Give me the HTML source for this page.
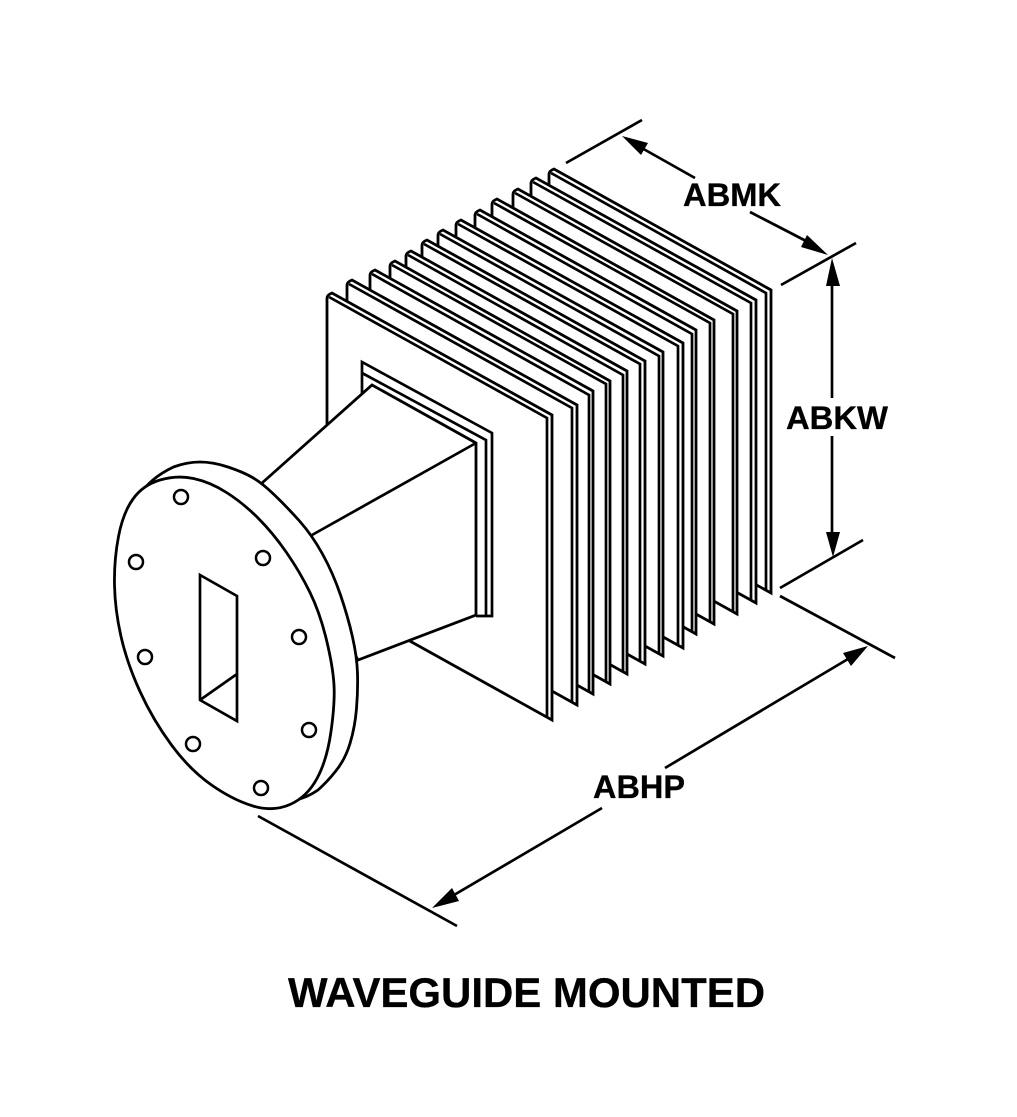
<!DOCTYPE html>
<html>
<head>
<meta charset="utf-8">
<title>Waveguide Mounted</title>
<style>
html,body{margin:0;padding:0;background:#fff;}
svg{display:block;}
text{font-family:"Liberation Sans",Arial,sans-serif;font-weight:bold;fill:#000;stroke:#000;stroke-width:0.3;}
.f{fill:#fff;stroke:#000;stroke-width:2.8;stroke-linejoin:miter;}
.i{fill:none;stroke:#000;stroke-width:2.7;}
.l{fill:none;stroke:#000;stroke-width:2.7;}
.h{fill:#fff;stroke:#000;stroke-width:2.5;}
</style>
</head>
<body>
<svg width="1017" height="1117" viewBox="0 0 1017 1117" xmlns="http://www.w3.org/2000/svg">
<rect width="1017" height="1117" fill="#fff"/>

<!-- Fins, back to front -->
<path class="f" d="M549 470V174Q549 171 554 169L771 290V593L549 470Z"/><path class="i" d="M551 173L766 293V591"/>
<path class="f" d="M531 478V183Q531 180 536 178L756 300V603L531 478Z"/><path class="i" d="M533 182L751 303V600"/>
<path class="f" d="M513 489V194Q513 191 518 189L737 311V614L513 489Z"/><path class="i" d="M515 193L733 314V612"/>
<path class="f" d="M492 501V204Q492 201 497 199L714 320V624L492 501Z"/><path class="i" d="M494 203L710 323V622"/>
<path class="f" d="M475 511V215Q475 212 480 210L696 330V634L475 511Z"/><path class="i" d="M477 214L692 334V632"/>
<path class="f" d="M456 522V225Q456 222 461 220L683 343V648L456 522Z"/><path class="i" d="M458 224L678 346V645"/>
<path class="f" d="M438 531V235Q438 232 443 230L663 352V656L438 531Z"/><path class="i" d="M440 234L659 356V654"/>
<path class="f" d="M422 540V245Q422 242 427 240L645 361V664L422 540Z"/><path class="i" d="M424 244L640 364V661"/>
<path class="f" d="M406 551V256Q406 253 411 251L627 371V674L406 551Z"/><path class="i" d="M408 255L623 375V672"/>
<path class="f" d="M390 562V266Q390 263 395 261L610 381V684L390 562Z"/><path class="i" d="M392 265L606 384V682"/>
<path class="f" d="M370 570V275Q370 272 375 270L593 391V694L370 570Z"/><path class="i" d="M372 274L589 395V692"/>
<path class="f" d="M347 577V285Q347 282 352 280L577 405V705L347 577Z"/><path class="i" d="M349 284L572 408V702"/>
<path class="f" d="M327 595V298Q327 295 332 293L552 415V720L327 595Z"/><path class="i" d="M329 297L547 418V717"/>

<!-- Window plate -->
<path class="l" d="M362 393V362L492 433V616H476"/>
<path class="l" d="M362 373L486 440V616"/>

<!-- Horn -->
<path class="f" d="M372 385L476 443V615L358 660L262 483Z"/>
<path class="l" d="M476 443L312 535"/>

<!-- Flange rim -->
<path class="f" d="M138 497Q150 478 173.5 467Q187 462 200 462Q213 462 228 467Q243 472 252.5 477.5Q262 483 274.5 495Q287 507 299.5 521Q312 535 322.5 554Q333 573 340.5 595Q348 617 352.5 637Q357 657 357.5 673.5Q358 690 356.5 708.5Q355 727 350 743.5Q345 760 335 772Q327 782 318 790Q308 797 296 800Z"/>
<!-- Flange face -->
<path class="f" d="M160 480Q177 475 193.5 478.5Q210 482 226.5 492.5Q243 503 258 518Q273 533 286.5 552.5Q300 572 310 592.5Q320 613 326.5 640Q333 667 334 685Q335 703 331 731.5Q327 760 317 778.5Q307 797 290 804.5Q273 812 253 806Q233 800 211.5 785Q190 770 171.5 745Q153 720 140 691.5Q127 663 121 636.5Q115 610 114.5 585Q114 560 118.5 536.5Q123 513 133 499Q143 485 160 480Z"/>

<!-- Bolt holes -->
<circle class="h" cx="181" cy="497" r="7"/>
<circle class="h" cx="136" cy="562" r="7"/>
<circle class="h" cx="263" cy="558" r="7"/>
<circle class="h" cx="145" cy="657" r="7"/>
<circle class="h" cx="299" cy="637" r="7"/>
<circle class="h" cx="193" cy="744" r="7"/>
<circle class="h" cx="309" cy="730" r="7"/>
<circle class="h" cx="261" cy="788" r="7"/>

<!-- Slot -->
<path class="l" d="M200 575L237 596V721L200 700Z"/>
<path class="l" d="M200 700L237 674"/>

<!-- Dimensions -->
<path class="l" d="M566 163L642 120"/>
<path class="l" d="M781 285L856 243"/>
<path class="l" d="M780 588L863 540"/>
<path class="l" d="M780 596L895 658"/>
<path class="l" d="M258 816L457 926"/>

<path class="l" d="M640 147L695 178"/>
<polygon points="622,136 648,143 641,155"/>
<path class="l" d="M750 212L808 242"/>
<polygon points="828,255 807,235 801,247"/>
<path class="l" d="M832 284V398"/>
<polygon points="832,258 826,286 840,286"/>
<path class="l" d="M832 436V534"/>
<polygon points="833,557 826,532 840,532"/>
<path class="l" d="M665 768L848 659"/>
<polygon points="868,646 843,653 851,666"/>
<path class="l" d="M602 808L454 895"/>
<polygon points="432,908 452,888 459,901"/>

<!-- Labels -->
<text x="683" y="206" font-size="32.5" textLength="98" lengthAdjust="spacingAndGlyphs">ABMK</text>
<text x="786" y="429" font-size="32.5" textLength="102" lengthAdjust="spacingAndGlyphs">ABKW</text>
<text x="593" y="798" font-size="32.5" textLength="92" lengthAdjust="spacingAndGlyphs">ABHP</text>
<text x="288" y="1007" font-size="42" textLength="477" lengthAdjust="spacingAndGlyphs">WAVEGUIDE MOUNTED</text>
</svg>
</body>
</html>
